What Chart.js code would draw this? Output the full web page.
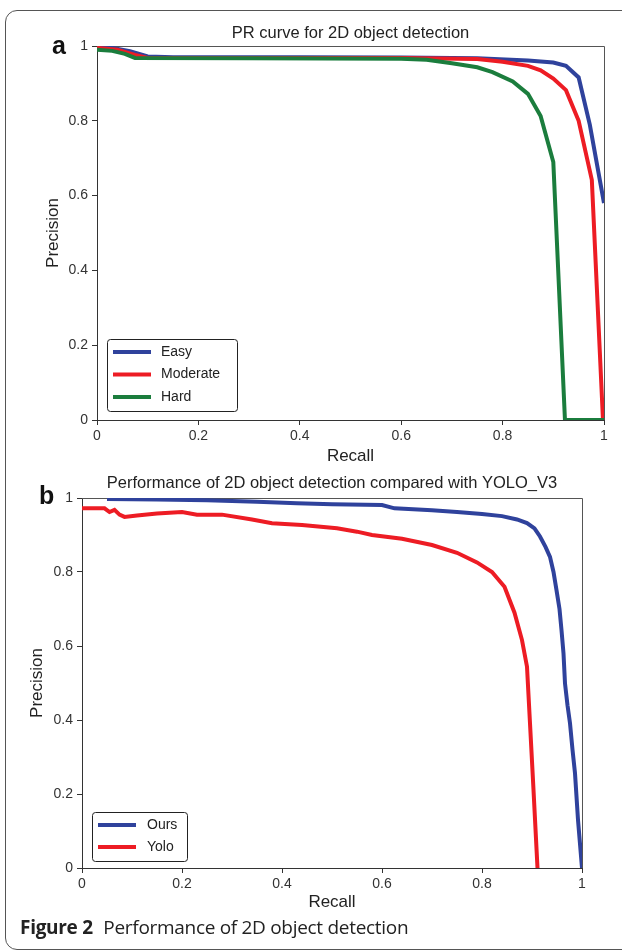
<!DOCTYPE html>
<html>
<head>
<meta charset="utf-8">
<title>Performance of 2D object detection</title>
<script src="https://cdn.jsdelivr.net/npm/chart.js@4.4.0/dist/chart.umd.min.js"></script>
<style>
  html, body { margin: 0; padding: 0; background: #fff; }
  body { width: 622px; height: 951px; position: relative; overflow: hidden; font-family: "Liberation Sans", Arial, sans-serif; }
  .frame { position: absolute; left: 5px; top: 10px; width: 700px; height: 938px; border: 1px solid #555; border-radius: 12px; }
  canvas { position: absolute; left: 0; }
  #prChart { top: 0; }
  #yoloChart { top: 465px; }
  .panel { position: absolute; font-weight: bold; font-size: 25px; line-height: 24px; color: #111; }
  .caption { position: absolute; left: 20px; top: 914px; font-family: "Open Sans", sans-serif; font-size: 19px; letter-spacing: -0.3px; color: #222; white-space: nowrap; }
  .caption b { font-weight: bold; margin-right: 6px; }
</style>
</head>
<body>
<div class="frame"></div>
<canvas id="prChart" width="622" height="470"></canvas>
<canvas id="yoloChart" width="622" height="450"></canvas>
<div class="panel" style="left:52px; top:33px;">a</div>
<div class="panel" style="left:39px; top:483px;">b</div>
<div class="caption"><b>Figure 2</b> Performance of 2D object detection</div>

<script>
// ---- panel a: PR curves per difficulty ----
const easyRecall = [0, 0.03, 0.065, 0.1, 0.15, 0.4, 0.6, 0.75, 0.85, 0.9, 0.925, 0.95, 0.972, 1.0];
const easyPrecision = [1.0, 0.995, 0.986, 0.972, 0.970, 0.970, 0.969, 0.967, 0.961, 0.956, 0.947, 0.916, 0.79, 0.58];

const moderateRecall = [0, 0.04, 0.075, 0.1, 0.4, 0.6, 0.75, 0.8, 0.85, 0.875, 0.9, 0.925, 0.95, 0.976, 0.998];
const moderatePrecision = [0.995, 0.99, 0.976, 0.968, 0.968, 0.968, 0.965, 0.958, 0.947, 0.935, 0.913, 0.882, 0.80, 0.642, 0.0];

const hardRecall = [0, 0.03, 0.055, 0.075, 0.3, 0.6, 0.65, 0.7, 0.75, 0.78, 0.82, 0.85, 0.875, 0.9, 0.923, 1.0];
const hardPrecision = [0.99, 0.987, 0.979, 0.968, 0.967, 0.966, 0.963, 0.954, 0.943, 0.93, 0.905, 0.872, 0.813, 0.69, 0.0, 0.0];

// ---- panel b: ours vs YOLO_V3 ----
const oursRecall = [0.05, 0.15, 0.25, 0.35, 0.43, 0.5, 0.6, 0.625, 0.7, 0.75, 0.8, 0.84, 0.87, 0.89, 0.905, 0.916, 0.927, 0.936, 0.943, 0.949, 0.955, 0.959, 0.963, 0.966, 0.971, 0.976, 0.981, 0.986, 0.992, 1.0];
const oursPrecision = [0.997, 0.996, 0.994, 0.99, 0.986, 0.983, 0.981, 0.972, 0.967, 0.962, 0.957, 0.951, 0.942, 0.932, 0.918, 0.896, 0.868, 0.841, 0.8, 0.751, 0.7, 0.643, 0.58, 0.499, 0.44, 0.391, 0.32, 0.256, 0.13, 0.0];

const yoloRecall = [0, 0.045, 0.055, 0.065, 0.075, 0.085, 0.11, 0.15, 0.2, 0.23, 0.28, 0.34, 0.38, 0.44, 0.51, 0.55, 0.58, 0.64, 0.7, 0.75, 0.79, 0.82, 0.845, 0.865, 0.88, 0.89, 0.896, 0.903, 0.911];
const yoloPrecision = [0.972, 0.972, 0.962, 0.968, 0.955, 0.949, 0.953, 0.958, 0.962, 0.955, 0.955, 0.942, 0.932, 0.927, 0.918, 0.909, 0.9, 0.89, 0.873, 0.852, 0.826, 0.8, 0.76, 0.69, 0.616, 0.544, 0.391, 0.211, 0.0];

const tickValues = [0, 0.2, 0.4, 0.6, 0.8, 1];

const BLUE = '#2f429c';
const RED = '#ed1c24';
const GREEN = '#1b7d3d';
const FONT = '"Liberation Sans", Arial, sans-serif';

// pair recall/precision arrays into points
const toPoints = (xs, ys) => xs.map((x, i) => ({ x: x, y: ys[i] }));

const curve = (label, xs, ys, color, order) => ({
    label: label,
    data: toPoints(xs, ys),
    borderColor: color,
    backgroundColor: color,
    borderWidth: 4,
    pointRadius: 0,
    tension: 0,
    order: order
});

// top + right edge of the plot box
const plotFrame = {
    id: 'plotFrame',
    beforeDatasetsDraw(chart) {
        const { ctx, chartArea: a } = chart;
        ctx.save();
        ctx.strokeStyle = '#555';
        ctx.lineWidth = 1;
        ctx.beginPath();
        ctx.moveTo(a.left, a.top + 0.5);
        ctx.lineTo(a.right + 0.5, a.top + 0.5);
        ctx.lineTo(a.right + 0.5, a.bottom);
        ctx.stroke();
        ctx.restore();
    }
};

// legend box in the lower-left corner of the plot
const boxLegend = {
    id: 'boxLegend',
    afterDatasetsDraw(chart, args, opts) {
        const { ctx, chartArea: a } = chart;
        const sets = chart.data.datasets;
        const gap = opts.gap;
        const h = 27 + gap * (sets.length - 1);
        const x = a.left + opts.left;
        const y = a.bottom - opts.bottom - h;
        ctx.save();
        ctx.fillStyle = '#fff';
        ctx.strokeStyle = '#222';
        ctx.lineWidth = 1;
        ctx.beginPath();
        ctx.roundRect(x + 0.5, y + 0.5, opts.width, h, 3);
        ctx.fill();
        ctx.stroke();
        ctx.font = '14px ' + FONT;
        ctx.textBaseline = 'middle';
        sets.forEach((ds, i) => {
            const ry = y + 13 + gap * i;
            ctx.strokeStyle = ds.borderColor;
            ctx.lineWidth = 4;
            ctx.beginPath();
            ctx.moveTo(x + 6, ry);
            ctx.lineTo(x + 44, ry);
            ctx.stroke();
            ctx.fillStyle = '#222';
            ctx.fillText(ds.label, x + opts.textX, ry);
        });
        ctx.restore();
    }
};

function axis(title, isX, titlePad, size) {
    return {
        type: 'linear',
        min: 0,
        max: 1,
        afterBuildTicks: s => { s.ticks = tickValues.map(v => ({ value: v })); },
        afterFit: s => { if (isX) { s.height = size; } else { s.width = size; } },
        grid: { drawOnChartArea: false, drawTicks: true, tickLength: 5, color: '#333' },
        border: { color: '#333', width: 1 },
        ticks: {
            color: '#333',
            padding: isX ? 3 : 4,
            font: { family: FONT, size: 14 },
            maxRotation: 0,
            callback: v => String(Number(v.toFixed(1)))
        },
        title: {
            display: true,
            text: title,
            color: '#222',
            font: { family: FONT, size: 17, lineHeight: 1.2 },
            padding: isX ? { top: 0, bottom: titlePad } : { top: titlePad, bottom: 0 }
        }
    };
}

function titleBlock(text, padTop, padBottom) {
    return {
        display: true,
        text: text,
        fullSize: false,
        color: '#222',
        font: { family: FONT, size: 16.5, weight: 'normal', lineHeight: 1.2 },
        padding: { top: padTop, bottom: padBottom }
    };
}

new Chart(document.getElementById('prChart'), {
    type: 'line',
    data: {
        datasets: [
            curve('Easy', easyRecall, easyPrecision, BLUE, 2),
            curve('Moderate', moderateRecall, moderatePrecision, RED, 1),
            curve('Hard', hardRecall, hardPrecision, GREEN, 0)
        ]
    },
    options: {
        responsive: false,
        animation: false,
        layout: { padding: { left: 30, right: 18, top: 0, bottom: 0 } },
        scales: {
            x: axis('Recall', true, 3.8, 50),
            y: axis('Precision', false, 12.8, 67)
        },
        plugins: {
            legend: { display: false },
            tooltip: { enabled: false },
            title: titleBlock('PR curve for 2D object detection', 23.1, 3.1),
            boxLegend: { left: 10, bottom: 9, width: 130, gap: 22.5, textX: 54 }
        }
    },
    plugins: [plotFrame, boxLegend]
});

new Chart(document.getElementById('yoloChart'), {
    type: 'line',
    data: {
        datasets: [
            curve('Ours', oursRecall, oursPrecision, BLUE, 0),
            curve('Yolo', yoloRecall, yoloPrecision, RED, 1)
        ]
    },
    options: {
        responsive: false,
        animation: false,
        layout: { padding: { left: 15, right: 40, top: 0, bottom: 0 } },
        scales: {
            x: axis('Recall', true, 2.8, 47),
            y: axis('Precision', false, 11.8, 67)
        },
        plugins: {
            legend: { display: false },
            tooltip: { enabled: false },
            title: titleBlock('Performance of 2D object detection compared with YOLO_V3', 8.1, 5.1),
            boxLegend: { left: 10, bottom: 7, width: 95, gap: 22, textX: 55 }
        }
    },
    plugins: [plotFrame, boxLegend]
});
</script>
</body>
</html>
